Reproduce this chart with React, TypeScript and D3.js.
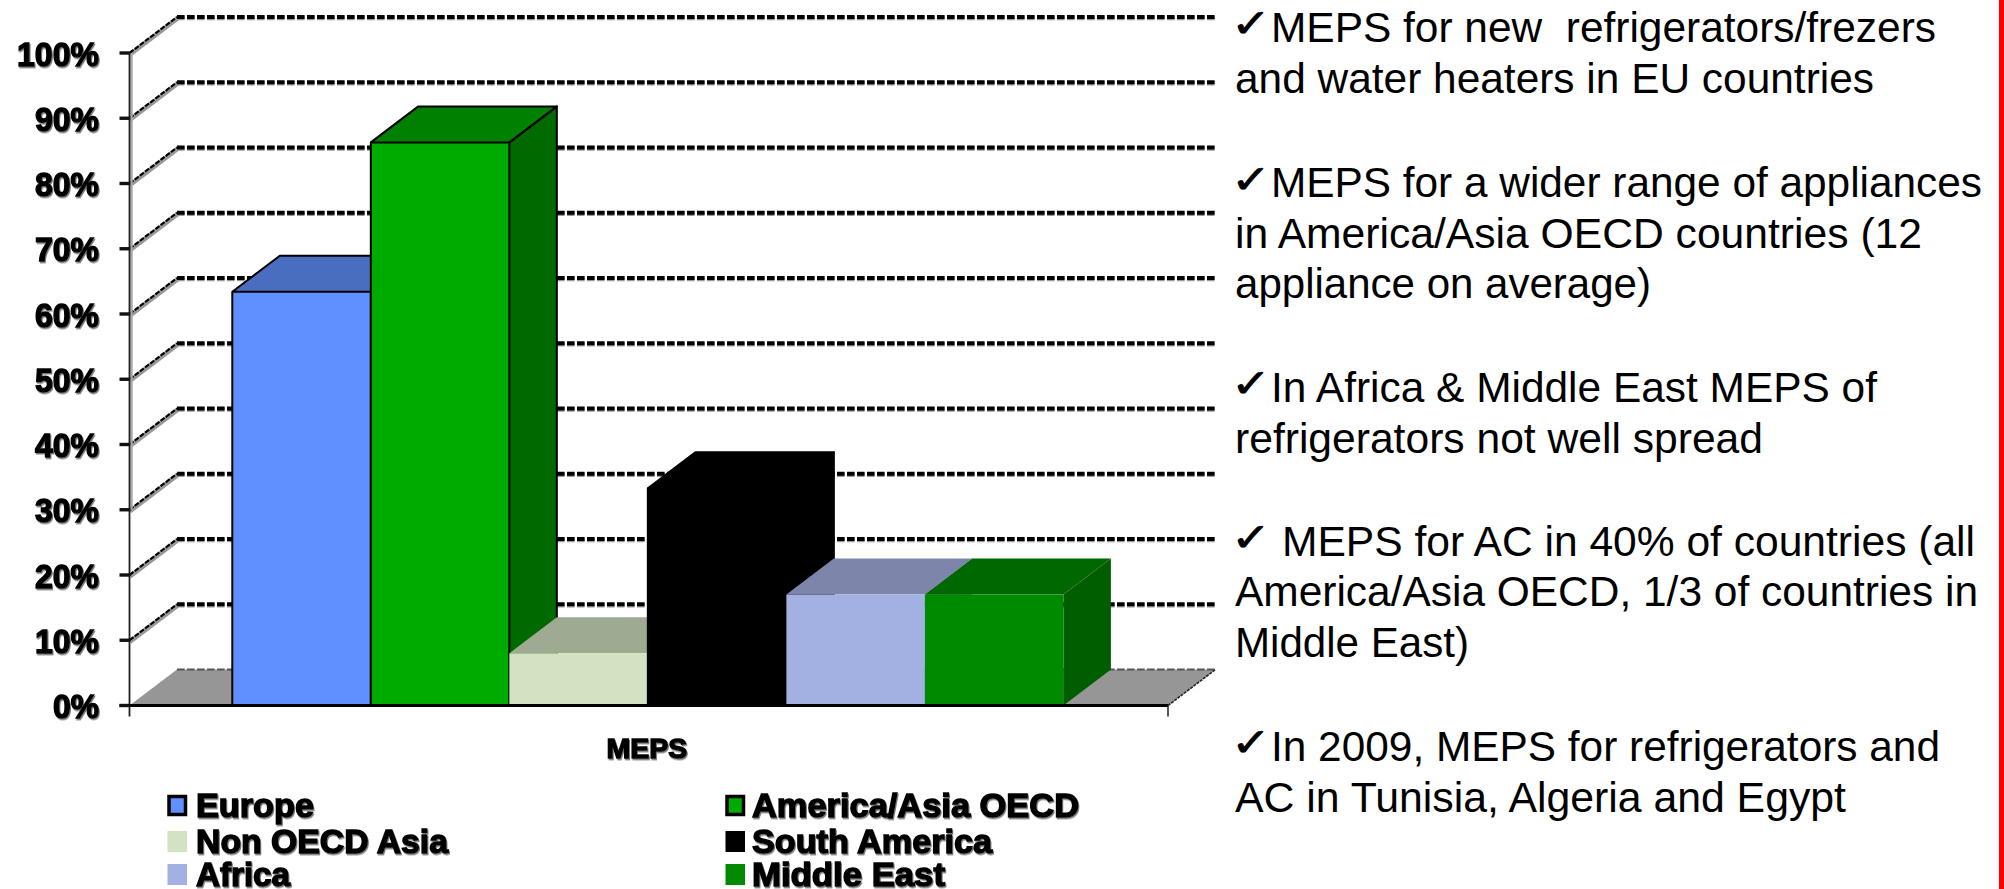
import React from "react";
import * as d3 from "d3";

// Share of countries with minimum energy performance standards, by region
const regions = ["Europe", "America/Asia OECD", "Non OECD Asia", "South America", "Africa", "Middle East"];
const meps = [63.4, 86.3, 8, 33.3, 17, 17];
const frontColors = ["#6090ff", "#00ab00", "#d2e2c2", "#000000", "#a3b1e2", "#008a00"];
const topColors = ["#4a6ebf", "#008000", "#9eaa92", "#000000", "#7d85ab", "#006800"];
const sideColors = ["#36548f", "#006900", "#9eaa92", "#000000", "#7d85ab", "#005d00"];
const edgeColors = ["#000", "#000", "none", "#000", "none", "none"];
const percentTicks = [0, 10, 20, 30, 40, 50, 60, 70, 80, 90, 100];
const categoryLabel = "MEPS";

// Each note line: baseline, left edge, right edge, wording, and whether a check mark leads it
const noteLines: [number, number, number, string, number][] = [
  [41.5, 1271, 1936, "MEPS for new  refrigerators/frezers", 1],
  [92.5, 1235, 1874, "and water heaters in EU countries", 0],
  [197, 1271, 1982, "MEPS for a wider range of appliances", 1],
  [247.5, 1235, 1922, "in America/Asia OECD countries (12", 0],
  [297.5, 1235, 1651, "appliance on average)", 0],
  [401.5, 1271, 1877, "In Africa & Middle East MEPS of", 1],
  [452.5, 1235, 1763, "refrigerators not well spread", 0],
  [555.5, 1282, 1975, "MEPS for AC in 40% of countries (all", 1],
  [605.5, 1235, 1978, "America/Asia OECD, 1/3 of countries in", 0],
  [657, 1235, 1469, "Middle East)", 0],
  [760.5, 1271, 1940, "In 2009, MEPS for refrigerators and", 1],
  [812, 1235, 1846, "AC in Tunisia, Algeria and Egypt", 0],
];

const legendRows = [0, 0, 1, 1, 2, 2];
const legendBaselines = [816.5, 852.5, 885.5];
const legendRightEdges = [314, 1079, 448, 992, 290, 945];
const tickLabelWidths: Record<number, number> = { 2: 46, 3: 64, 4: 82 };

const W = 2004;
const H = 889;
const axisX = 129.5;
const floorEndX = 1168;
const depthX = 47.5;
const depthY = 36;

const y = d3.scaleLinear().domain([0, 100]).range([705.5, 53]);
const x = d3.scaleBand<string>().domain(regions).range([232.3, 1063.4]).padding(0);
const polygon = d3.line();

const chartFont = "'Liberation Sans', Arial, sans-serif";

export default function App() {
  const bw = x.bandwidth();
  return (
    <svg
      width={W}
      height={H}
      viewBox={`0 0 ${W} ${H}`}
      style={{ position: "absolute", left: 0, top: 0, display: "block", background: "#fff" }}
    >
      <defs>
        <filter id="labelShadow" x="-5%" y="-10%" width="110%" height="125%">
          <feDropShadow dx="1" dy="1.5" stdDeviation="0.5" floodColor="#555" floodOpacity="0.8" />
        </filter>
      </defs>

      {/* floor of the 3D plot */}
      <path
        d={polygon([
          [axisX, y(0)],
          [axisX + depthX, y(0) - depthY],
          [floorEndX + depthX, y(0) - depthY],
          [floorEndX, y(0)],
        ]) ?? ""}
        fill="#969696"
      />

      {/* back wall gridlines and their diagonals on the side wall */}
      {percentTicks.map((t) => (
        <g key={t} fill="none">
          {t > 0 && (
            <>
              <line x1={axisX} y1={y(t)} x2={axisX + depthX} y2={y(t) - depthY} stroke="#999" strokeWidth={4.5} transform="translate(0.5,1.5)" />
              <line x1={axisX} y1={y(t)} x2={axisX + depthX} y2={y(t) - depthY} stroke="#000" strokeWidth={2.2} strokeDasharray="5 1.5" />
              <line
                x1={axisX + depthX}
                x2={floorEndX + depthX}
                y1={y(t) - depthY + 1}
                y2={y(t) - depthY + 1}
                stroke="#999"
                strokeWidth={4.5}
                strokeDasharray="7.6 2.4"
              />
            </>
          )}
          <line
            x1={axisX + depthX}
            x2={floorEndX + depthX}
            y1={y(t) - depthY}
            y2={y(t) - depthY}
            stroke={t === 0 ? "#555" : "#000"}
            strokeWidth={t === 0 ? 2 : 3.8}
            strokeDasharray="7.6 2.4"
          />
        </g>
      ))}
      <line x1={floorEndX} y1={y(0)} x2={floorEndX + depthX} y2={y(0) - depthY} stroke="#222" strokeWidth={1.6} strokeDasharray="3 1" />

      {/* bars, painted left to right so each one covers its neighbour's side */}
      {regions.map((r, i) => {
        const x0 = x(r) ?? 0;
        const x1 = x0 + bw;
        const yt = y(meps[i]);
        const yb = y(0);
        return (
          <g key={r} stroke={edgeColors[i]} strokeWidth={edgeColors[i] === "none" ? 0 : 2} strokeLinejoin="round">
            <path
              d={polygon([
                [x1, yt],
                [x1 + depthX, yt - depthY],
                [x1 + depthX, yb - depthY],
                [x1, yb],
              ]) ?? ""}
              fill={sideColors[i]}
            />
            <path
              d={polygon([
                [x0, yt],
                [x0 + depthX, yt - depthY],
                [x1 + depthX, yt - depthY],
                [x1, yt],
              ]) ?? ""}
              fill={topColors[i]}
            />
            <rect x={x0} y={yt} width={bw} height={yb - yt} fill={frontColors[i]} />
          </g>
        );
      })}

      {/* front axes */}
      <line x1={axisX + 2} y1={y(100)} x2={axisX + 2} y2={y(30)} stroke="#aaa" strokeWidth={2.5} />
      <line x1={axisX} y1={y(100)} x2={axisX} y2={y(0) + 11} stroke="#222" strokeWidth={1.8} />
      <line x1={axisX - 10} y1={y(0)} x2={floorEndX} y2={y(0)} stroke="#000" strokeWidth={3} />
      <line x1={floorEndX} y1={y(0)} x2={floorEndX} y2={y(0) + 11} stroke="#222" strokeWidth={1.5} />
      {percentTicks.map((t) => (
        <line key={t} x1={axisX - 10} y1={y(t)} x2={axisX} y2={y(t)} stroke="#111" strokeWidth={3.4} />
      ))}

      {/* chart labels */}
      <g fontFamily={chartFont} fontWeight={700} fill="#000" stroke="#000" strokeWidth={1.4} filter="url(#labelShadow)">
        {percentTicks.map((t) => {
          const label = `${t}%`;
          return (
            <text
              key={t}
              x={99}
              y={y(t) + 12.5}
              textAnchor="end"
              fontSize={34}
              textLength={tickLabelWidths[label.length]}
              lengthAdjust="spacingAndGlyphs"
            >
              {label}
            </text>
          );
        })}
        <text x={647} y={758} textAnchor="middle" fontSize={28.5}>
          {categoryLabel}
        </text>
        {regions.map((r, i) => {
          const left = i % 2 === 0 ? 196 : 752;
          return (
            <text
              key={r}
              x={left}
              y={legendBaselines[legendRows[i]]}
              fontSize={33.5}
              textLength={legendRightEdges[i] - left}
              lengthAdjust="spacingAndGlyphs"
            >
              {r}
            </text>
          );
        })}
      </g>

      {/* legend swatches */}
      {regions.map((r, i) => {
        const boxed = i < 2;
        const inset = boxed ? 1.5 : 0;
        return (
          <rect
            key={r}
            x={(i % 2 === 0 ? 167.5 : 725.5) + inset}
            y={legendBaselines[legendRows[i]] - 21.5 + inset}
            width={19.5 - 2 * inset}
            height={21 - 2 * inset}
            fill={frontColors[i]}
            stroke={boxed ? "#000" : "none"}
            strokeWidth={boxed ? 3.5 : 0}
          />
        );
      })}

      {/* notes to the right of the plot */}
      <g fontFamily={chartFont} fontSize={42} fill="#000">
        {noteLines.map(([base, left, right, line, check]) => (
          <g key={base}>
            {check === 1 && (
              <text
                x={1231}
                y={base - 4.5}
                fontFamily="'DejaVu Sans', sans-serif"
                fontSize={39.5}
                textLength={40}
                lengthAdjust="spacingAndGlyphs"
                stroke="#000"
                strokeWidth={0.8}
              >
                ✓
              </text>
            )}
            <text
              x={left}
              y={base}
              textLength={right - left}
              lengthAdjust="spacingAndGlyphs"
              style={{ whiteSpace: "pre" }}
            >
              {line}
            </text>
          </g>
        ))}
      </g>

      {/* red edge of the slide */}
      <rect x={1999} y={0} width={5} height={H} fill="#ff0000" />
    </svg>
  );
}
